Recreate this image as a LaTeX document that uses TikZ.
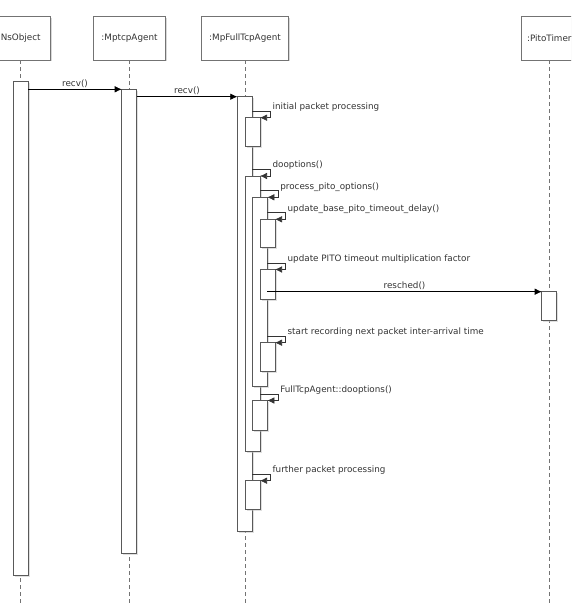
\documentclass[tikz,border=0pt]{standalone}
\usepackage{fontspec}
\setmainfont{DejaVu Sans}
\usepackage{tikz}
\usetikzlibrary{calc}
\usetikzlibrary{shadows}
\usetikzlibrary{arrows.meta}

\begin{document}
\begin{tikzpicture}[>={Latex[length=7pt, width=6.5pt]}, x=1pt, y=-1pt, line width=0.6pt, font=\fontsize{8.8}{10}\selectfont, text=black!80,
		head/.style={rectangle, draw=black!55, fill=white, minimum height=43.3pt, inner sep=0pt, drop shadow={shadow xshift=1.5pt, shadow yshift=-1.5pt, fill=black!30}},
		bar/.style={rectangle, draw=black!65, fill=white, minimum width=15pt, inner sep=0pt, outer sep=0pt, anchor=north west, drop shadow={shadow xshift=1.5pt, shadow yshift=-1.5pt, fill=black!25}},
		lifeline/.style={draw=black!55, dash pattern=on 4pt off 3pt},
		msg/.style={->, draw=black},
		call/.style={->, draw=black!80},
		calltext/.style={anchor=base west, inner sep=2pt, yshift=1.5pt}]
		\useasboundingbox (0,0) rectangle (571,604);
		\clip (0,0) rectangle (571,604);
		\coordinate (bottom) at (0,604);

		%elements
		\node at (20.7,38.3) (nsobj) [head, minimum width=59pt] {NsObject};
		\node at (129.5,38.3) (mptcp) [head, minimum width=72.4pt] {:MptcpAgent};
		\node at (245,38.3) (mpfull) [head, minimum width=86.6pt] {:MpFullTcpAgent};
		\node at (549.3,38.3) (pito) [head, minimum width=57pt] {:PitoTimer};

		\draw [lifeline] (nsobj.south) -- (nsobj.south |- bottom);
		\draw [lifeline] (mptcp.south) -- (mptcp.south |- bottom);
		\draw [lifeline] (mpfull.south) -- (mpfull.south |- bottom);
		\draw [lifeline] (pito.south) -- (pito.south |- bottom);

		%activations
		\node at (13.3,81.7) (nsbar) [bar, minimum height=493.3pt] {};
		\node at (121.7,89.3) (mptcpbar) [bar, minimum height=464pt] {};
		\node at (237.3,96.7) (mainbar) [bar, minimum height=435pt] {};
		\node at (245,117.7) (initbar) [bar, minimum height=29pt] {};
		\node at (245,176) (doopt) [bar, minimum height=275pt] {};
		\node at (252.3,197.3) (pitoopt) [bar, minimum height=188.7pt] {};
		\node at (260,219.3) (basedelay) [bar, minimum height=28pt] {};
		\node at (260,269.5) (factor) [bar, minimum height=29.5pt] {};
		\node at (260,342.7) (recording) [bar, minimum height=29pt] {};
		\node at (252.3,400.5) (fulldoopt) [bar, minimum height=29.5pt] {};
		\node at (245,480.7) (further) [bar, minimum height=28.6pt] {};
		\node at (541.7,291.7) (timerbar) [bar, minimum height=29pt] {};

		%messages
		\draw [msg] (nsbar.east |- mptcpbar.north) -- node [above, inner sep=1.5pt] (recvA) {recv()} (mptcpbar.north west);
		\draw [msg] (mptcpbar.east |- mainbar.north) -- node [above, inner sep=1.5pt] (recvB) {recv()} (mainbar.north west);
		\draw [msg] (pitoopt.east |- timerbar.north) -- node [above, inner sep=1.5pt] (resched) {resched()} (timerbar.north west);

		%self calls
		\draw [call] ($(mainbar.east |- initbar.north)+(0,-6.7)$) -- ++(18,0) node [calltext] (initlbl) {initial packet processing} |- (initbar.north east);
		\draw [call] ($(mainbar.east |- doopt.north)+(0,-6.7)$) -- ++(18,0) node [calltext] (dooptlbl) {dooptions()} |- (doopt.north east);
		\draw [call] ($(doopt.east |- pitoopt.north)+(0,-6.7)$) -- ++(18,0) node [calltext] (pitooptlbl) {process\_pito\_options()} |- (pitoopt.north east);
		\draw [call] ($(pitoopt.east |- basedelay.north)+(0,-6.7)$) -- ++(18,0) node [calltext] (basedelaylbl) {update\_base\_pito\_timeout\_delay()} |- (basedelay.north east);
		\draw [call] ($(pitoopt.east |- factor.north)+(0,-6.7)$) -- ++(18,0) node [calltext] (factorlbl) {update PITO timeout multiplication factor} |- (factor.north east);
		\draw [call] ($(pitoopt.east |- recording.north)+(0,-6.7)$) -- ++(18,0) node [calltext] (recordinglbl) {start recording next packet inter-arrival time} |- (recording.north east);
		\draw [call] ($(doopt.east |- fulldoopt.north)+(0,-6.7)$) -- ++(18,0) node [calltext] (fulldooptlbl) {FullTcpAgent::dooptions()} |- (fulldoopt.north east);
		\draw [call] ($(mainbar.east |- further.north)+(0,-6.7)$) -- ++(18,0) node [calltext] (furtherlbl) {further packet processing} |- (further.north east);
\end{tikzpicture}
\end{document}
